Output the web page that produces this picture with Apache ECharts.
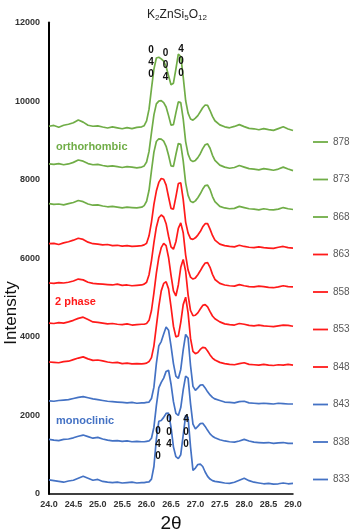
<!DOCTYPE html>
<html>
<head>
<meta charset="utf-8">
<script src="https://cdn.jsdelivr.net/npm/echarts@6/dist/echarts.min.js"></script>
<style>
html, body { margin: 0; padding: 0; background: #fff; }
#chart { width: 350px; height: 529px; }
</style>
</head>
<body>
<div id="chart"></div>
<script>
// 2theta sampling points (finer across the main reflections)
var twoTheta = [24.0, 24.1, 24.2, 24.3, 24.4, 24.5, 24.6, 24.7, 24.8, 24.9,
	25.0, 25.1, 25.2, 25.3, 25.4, 25.5, 25.6, 25.7, 25.8, 25.9,
	25.95, 26.0, 26.05, 26.1, 26.15, 26.2, 26.25, 26.3, 26.35, 26.4,
	26.45, 26.5, 26.55, 26.6, 26.65, 26.7, 26.75, 26.8, 26.85, 26.9,
	26.95, 27.0, 27.05, 27.1, 27.15, 27.2, 27.25, 27.3, 27.35, 27.4,
	27.5, 27.6, 27.7, 27.8, 27.9, 28.0, 28.1, 28.2, 28.3, 28.4,
	28.5, 28.6, 28.7, 28.8, 28.9, 29.0];

// orthorhombic
var s878 = [9360, 9380, 9335, 9385, 9410, 9450, 9520, 9465, 9385, 9360,
	9370, 9340, 9315, 9345, 9320, 9295, 9325, 9300, 9330, 9345,
	9375, 9495, 9795, 10315, 10815, 11095, 11115, 11075, 11015, 10875,
	10645, 10415, 10455, 10815, 11195, 11135, 10615, 10015, 9695, 9545,
	9515, 9565, 9630, 9730, 9830, 9900, 9890, 9760, 9610, 9500,
	9395, 9345, 9320, 9355, 9400, 9350, 9305, 9295, 9270, 9300,
	9275, 9255, 9300, 9345, 9290, 9250];
var s873 = [8400, 8390, 8410, 8380, 8400, 8440, 8500, 8470, 8410, 8380,
	8390, 8360, 8340, 8350, 8330, 8310, 8330, 8320, 8300, 8320,
	8350, 8450, 8720, 9200, 9650, 9930, 10000, 10010, 9960, 9850,
	9630, 9390, 9400, 9700, 9980, 9960, 9550, 8970, 8650, 8500,
	8460, 8490, 8560, 8660, 8790, 8890, 8910, 8800, 8620, 8490,
	8370, 8320, 8290, 8310, 8360, 8320, 8280, 8270, 8250, 8280,
	8260, 8240, 8270, 8320, 8270, 8230];
var s868 = [7390, 7370, 7380, 7360, 7390, 7420, 7470, 7440, 7380, 7350,
	7360, 7330, 7310, 7320, 7300, 7280, 7300, 7290, 7280, 7300,
	7340, 7450, 7730, 8230, 8700, 8970, 9040, 9030, 8980, 8850,
	8620, 8350, 8340, 8640, 8920, 8900, 8480, 7920, 7600, 7450,
	7420, 7460, 7540, 7640, 7760, 7850, 7860, 7750, 7570, 7440,
	7320, 7280, 7260, 7270, 7320, 7290, 7260, 7250, 7230, 7260,
	7240, 7230, 7250, 7290, 7260, 7240];
// 2 phase
var s863 = [6370, 6380, 6350, 6390, 6420, 6460, 6510, 6480, 6410, 6370,
	6360, 6340, 6350, 6320, 6330, 6310, 6320, 6300, 6310, 6320,
	6340, 6380, 6570, 6920, 7370, 7710, 7930, 8030, 8010, 7860,
	7560, 7270, 7250, 7560, 7900, 7920, 7500, 6920, 6640, 6500,
	6480, 6520, 6590, 6680, 6800, 6880, 6880, 6740, 6580, 6460,
	6360, 6320, 6300, 6290, 6330, 6300, 6280, 6270, 6290, 6270,
	6260, 6250, 6280, 6300, 6270, 6260];
var s858 = [5370, 5360, 5380, 5370, 5390, 5420, 5470, 5450, 5390, 5360,
	5350, 5340, 5330, 5320, 5340, 5310, 5320, 5300, 5310, 5320,
	5340, 5390, 5580, 5940, 6400, 6790, 7030, 7100, 7050, 6880,
	6560, 6290, 6230, 6420, 6760, 6900, 6650, 6080, 5700, 5520,
	5470, 5500, 5580, 5680, 5790, 5880, 5890, 5770, 5590, 5460,
	5360, 5320, 5300, 5290, 5330, 5300, 5280, 5270, 5290, 5280,
	5260, 5250, 5270, 5300, 5280, 5270];
var s853 = [4350, 4340, 4360, 4350, 4380, 4420, 4470, 4500, 4440, 4380,
	4370, 4350, 4330, 4340, 4320, 4310, 4330, 4300, 4310, 4320,
	4320, 4340, 4420, 4670, 5120, 5620, 6020, 6270, 6380, 6320,
	6020, 5570, 5170, 5040, 5320, 5770, 5970, 5670, 5070, 4670,
	4540, 4550, 4610, 4710, 4800, 4820, 4760, 4640, 4530, 4460,
	4380, 4330, 4310, 4300, 4340, 4320, 4290, 4280, 4300, 4280,
	4270, 4260, 4280, 4300, 4290, 4270];
var s848 = [3360, 3350, 3340, 3370, 3380, 3420, 3460, 3490, 3440, 3400,
	3410, 3390, 3360, 3340, 3350, 3320, 3330, 3310, 3320, 3310,
	3320, 3330, 3370, 3470, 3770, 4270, 4770, 5170, 5360, 5400,
	5220, 4770, 4270, 4000, 4020, 4370, 4820, 5010, 4610, 3960,
	3630, 3570, 3600, 3680, 3730, 3720, 3640, 3540, 3460, 3410,
	3350, 3320, 3300, 3290, 3320, 3340, 3300, 3290, 3280, 3300,
	3280, 3270, 3290, 3280, 3300, 3280];
// monoclinic
var s843 = [2370, 2360, 2380, 2390, 2400, 2430, 2460, 2480, 2450, 2420,
	2400, 2380, 2360, 2350, 2340, 2330, 2320, 2330, 2310, 2320,
	2320, 2330, 2340, 2430, 2720, 3320, 3770, 3880, 4070, 4250,
	4170, 3770, 3320, 3000, 2940, 3170, 3670, 4060, 3970, 3270,
	2740, 2640, 2700, 2770, 2780, 2700, 2600, 2520, 2460, 2420,
	2380, 2340, 2330, 2320, 2350, 2360, 2320, 2310, 2300, 2310,
	2300, 2290, 2310, 2300, 2290, 2290];
var s838 = [1390, 1370, 1360, 1390, 1400, 1430, 1470, 1500, 1460, 1420,
	1440, 1400, 1370, 1350, 1360, 1340, 1350, 1330, 1340, 1330,
	1330, 1340, 1350, 1420, 1700, 2250, 2700, 2840, 2950, 3120,
	3150, 2800, 2350, 2050, 2000, 2200, 2650, 3000, 2950, 2300,
	1780, 1660, 1720, 1790, 1800, 1720, 1620, 1530, 1470, 1430,
	1380, 1350, 1330, 1320, 1350, 1390, 1350, 1320, 1310, 1300,
	1310, 1290, 1300, 1310, 1290, 1290];
var s833 = [360, 340, 320, 300, 330, 350, 400, 450, 400, 350,
	370, 320, 300, 290, 300, 280, 290, 300, 280, 290,
	290, 300, 310, 380, 700, 1400, 1850, 1870, 1950, 2050,
	2060, 1700, 1200, 950, 900, 1000, 1500, 2000, 1950, 1200,
	600, 660, 750, 760, 700, 560, 450, 380, 340, 320,
	300, 280, 270, 300, 350, 400, 340, 300, 280, 260,
	270, 250, 260, 280, 260, 270];

var names = ['878', '873', '868', '863', '858', '853', '848', '843', '838', '833'];
var values = [s878, s873, s868, s863, s858, s853, s848, s843, s838, s833];
var GREEN = '#70ad47', RED = '#ff1a1a', BLUE = '#4472c4';
var colors = [GREEN, GREEN, GREEN, RED, RED, RED, RED, BLUE, BLUE, BLUE];

var xTicks = { min: 24, max: 29, step: 0.5 };
var yTicks = { min: 0, max: 12000, step: 2000 };

var chart = echarts.init(document.getElementById('chart'));

var series = names.map(function(n, k) {
	return {
		name: n,
		type: 'line',
		symbol: 'none',
		smooth: false,
		lineStyle: { width: 1.7, color: colors[k] },
		itemStyle: { color: colors[k] },
		data: twoTheta.map(function(x, i) { return [x, values[k][i]]; })
	};
});

// peak index labels
function hkl(txt, x, y, lh) {
	return {
		type: 'text', x: x, y: y, z: 100,
		style: {
			text: txt, fill: '#111', font: 'bold 10px "Liberation Sans", Arial, sans-serif',
			textAlign: 'center', textVerticalAlign: 'top', lineHeight: lh
		}
	};
}

var option = {
	backgroundColor: '#fff',
	animation: false,
	textStyle: { fontFamily: '"Liberation Sans", Arial, sans-serif' },
	title: {
		text: 'K{s|2}ZnSi{s|5}O{s|12}',
		left: 172, top: 3,
		textAlign: 'center',
		textStyle: {
			fontSize: 12, fontWeight: 'normal', color: '#222',
			rich: { s: { fontSize: 8, verticalAlign: 'bottom', padding: [6, 0, 0, 0], color: '#222' } }
		}
	},
	grid: { left: 49, right: 57, top: 22.5, bottom: 35, containLabel: false, outerBoundsMode: 'none' },
	legend: {
		orient: 'vertical',
		left: 308, top: 132,
		itemWidth: 15, itemHeight: 10, itemGap: 27.5,
		data: names.map(function(n, k) {
			return { name: n, icon: 'path://M0,4.1 L15,4.1 L15,5.9 L0,5.9 Z', itemStyle: { color: colors[k] } };
		}),
		textStyle: { fontSize: 10, color: '#595959' }
	},
	xAxis: {
		type: 'value', min: xTicks.min, max: xTicks.max, interval: xTicks.step,
		name: '2θ', nameLocation: 'middle', nameGap: 13,
		nameTextStyle: { fontSize: 19, color: '#111' },
		axisLine: { lineStyle: { color: '#000', width: 1.5 } },
		axisTick: { show: false },
		splitLine: { show: false },
		axisLabel: {
			fontSize: 9, fontWeight: 'bold', color: '#333', margin: 6,
			formatter: function(v) { return v.toFixed(1); }
		}
	},
	yAxis: {
		type: 'value', min: yTicks.min, max: yTicks.max, interval: yTicks.step,
		axisLine: { show: true, lineStyle: { color: '#000', width: 2 } },
		axisTick: { show: false },
		splitLine: { show: false },
		axisLabel: {
			fontSize: 9, fontWeight: 'bold', color: '#333', margin: 9,
			formatter: function(v) { return String(v); }
		}
	},
	graphic: [
		{
			type: 'text', x: 11, y: 313, rotation: Math.PI / 2,
			style: {
				text: 'Intensity', fill: '#111', font: '17px "Liberation Sans", Arial, sans-serif',
				textAlign: 'center', textVerticalAlign: 'middle'
			}
		},
		{ type: 'text', x: 56, y: 147, style: { text: 'orthorhombic', fill: GREEN, font: 'bold 11px "Liberation Sans", Arial, sans-serif', textVerticalAlign: 'middle' } },
		{ type: 'text', x: 55, y: 302, style: { text: '2 phase', fill: RED, font: 'bold 11px "Liberation Sans", Arial, sans-serif', textVerticalAlign: 'middle' } },
		{ type: 'text', x: 56, y: 421, style: { text: 'monoclinic', fill: BLUE, font: 'bold 11px "Liberation Sans", Arial, sans-serif', textVerticalAlign: 'middle' } },
		hkl('0\n4\n0', 151, 44, 12),
		hkl('0\n0\n4', 165.5, 47, 12),
		hkl('4\n0\n0', 181, 43, 12),
		hkl('0\n4\n0', 158, 425, 12.5),
		hkl('0\n0\n4', 169, 413, 12.5),
		hkl('4\n0\n0', 186, 413, 12.5)
	],
	series: series
};

chart.setOption(option);
</script>
</body>
</html>
